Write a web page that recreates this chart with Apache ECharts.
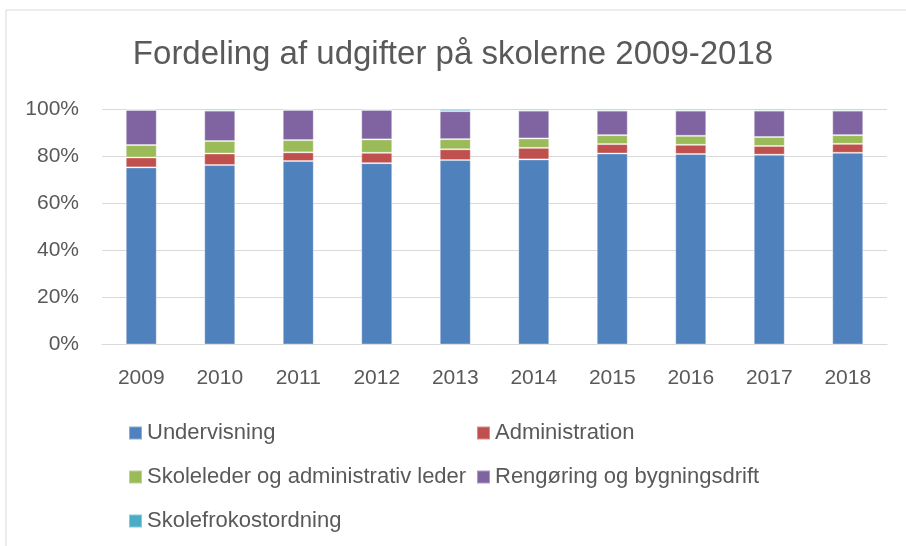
<!DOCTYPE html>
<html>
<head>
<meta charset="utf-8">
<script src="https://cdn.jsdelivr.net/npm/echarts@6/dist/echarts.min.js"></script>
<style>
  html, body { margin: 0; padding: 0; background: #fff; }
  #chart { width: 906px; height: 546px; }
</style>
</head>
<body>
<div id="chart"></div>
<script>
var years = ['2009', '2010', '2011', '2012', '2013', '2014', '2015', '2016', '2017', '2018'];

// andele i procent
var undervisning   = [75.2, 76.2, 77.9, 77.0, 78.3, 78.6, 81.1, 80.9, 80.6, 81.4];
var administration = [4.2, 4.9, 3.7, 4.4, 4.6, 4.9, 4.0, 3.9, 3.7, 3.8];
var skoleleder     = [5.3, 5.3, 5.2, 5.7, 4.3, 4.0, 3.8, 3.8, 3.8, 3.7];
var rengoering     = [14.9, 12.9, 12.8, 12.5, 11.9, 11.8, 10.4, 10.7, 11.2, 10.4];
var frokost        = [0.4, 0.7, 0.4, 0.4, 0.9, 0.7, 0.7, 0.7, 0.7, 0.7];

var yTicks = [0, 20, 40, 60, 80, 100];

var font = '"Liberation Sans", Arial, sans-serif';
var textColor = '#595959';

function bar(name, data, color) {
    return {
        name: name,
        type: 'bar',
        stack: 'total',
        barWidth: 31,
        data: data,
        itemStyle: {
            color: color,
            borderColor: 'rgba(255,255,255,0.35)',
            borderWidth: 1
        }
    };
}

var legendText = {
    color: textColor,
    fontSize: 22,
    fontFamily: font,
    lineHeight: 22
};

echarts.init(document.getElementById('chart')).setOption({
    animation: false,
    graphic: [{
        type: 'rect',
        shape: { x: 6, y: 10, width: 930, height: 560 },
        style: { fill: 'none', stroke: '#d9d9d9', lineWidth: 1 },
        silent: true
    }],
    title: {
        text: 'Fordeling af udgifter på skolerne 2009-2018',
        left: 'center',
        top: 33,
        textStyle: {
            color: textColor,
            fontSize: 33,
            fontWeight: 'normal',
            fontFamily: font
        }
    },
    legend: [{
        orient: 'vertical',
        left: 123,
        top: 417,
        itemWidth: 13,
        itemHeight: 13,
        itemGap: 22,
        icon: 'rect',
        data: ['Undervisning', 'Skoleleder og administrativ leder', 'Skolefrokostordning'],
        textStyle: legendText
    }, {
        orient: 'vertical',
        left: 471,
        top: 417,
        itemWidth: 13,
        itemHeight: 13,
        itemGap: 22,
        icon: 'rect',
        data: ['Administration', 'Rengøring og bygningsdrift'],
        textStyle: legendText
    }],
    grid: {
        left: 102,
        right: 19,
        top: 109,
        bottom: 201.5
    },
    xAxis: {
        type: 'category',
        data: years,
        axisTick: { show: false },
        axisLine: { lineStyle: { color: '#d9d9d9', width: 1 } },
        axisLabel: {
            color: textColor,
            fontSize: 21,
            fontFamily: font,
            margin: 23
        }
    },
    yAxis: {
        type: 'value',
        min: yTicks[0],
        max: yTicks[yTicks.length - 1],
        interval: yTicks[1] - yTicks[0],
        axisLine: { show: false },
        axisTick: { show: false },
        splitLine: { lineStyle: { color: '#d9d9d9', width: 1 } },
        axisLabel: {
            formatter: '{value}%',
            color: textColor,
            fontSize: 21,
            fontFamily: font,
            margin: 23
        }
    },
    series: [
        bar('Undervisning', undervisning, '#4f81bd'),
        bar('Administration', administration, '#c0504d'),
        bar('Skoleleder og administrativ leder', skoleleder, '#9bbb59'),
        bar('Rengøring og bygningsdrift', rengoering, '#8064a2'),
        bar('Skolefrokostordning', frokost, '#4bacc6')
    ]
});
</script>
</body>
</html>
